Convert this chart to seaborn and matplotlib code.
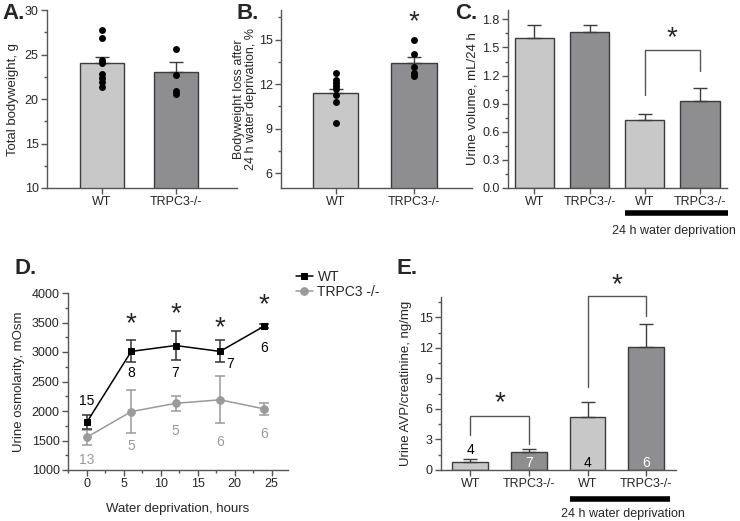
import numpy as np
import pandas as pd
import matplotlib.pyplot as plt
import seaborn as sns
from matplotlib.ticker import MultipleLocator
import matplotlib.transforms as mtrans

sns.set_style('ticks')
plt.rcParams['font.family'] = ['Liberation Sans', 'DejaVu Sans']
plt.rcParams['font.size'] = 9

CLARO = '#c8c8c8'
ESCURO = '#8e8e90'
BORDA = '#3c3c3c'
EIXO = '#555555'
CINZA = '#9a9a9a'

# A. peso corporal total
grupos = ['WT', 'TRPC3-/-']
peso_media = [24.0, 23.05]
peso_erro = [0.75, 1.1]
peso_wt = [27.7, 26.8, 24.4, 24.1, 22.8, 22.4, 21.9, 21.4]
peso_ko = [25.6, 22.7, 20.9, 20.6]

# B. perda de peso apos 24 h sem agua
perda_media = [11.4, 13.4]
perda_erro = [0.3, 0.45]
perda_wt = [12.75, 12.3, 12.05, 11.85, 11.65, 11.25, 10.8, 9.4]
perda_ko = [15.0, 14.05, 13.15, 12.75, 12.55]

# C. volume urinario
volume_rotulos = ['WT', 'TRPC3-/-', 'WT', 'TRPC3-/-']
volume_media = [1.60, 1.67, 0.73, 0.93]
volume_erro = [0.14, 0.07, 0.065, 0.14]

# D. osmolaridade x horas
horas = [0, 6, 12, 18, 24]
osm_wt = [1810, 3010, 3110, 3010, 3440]
osm_wt_erro = [115, 185, 245, 185, 30]
osm_ko = [1555, 1990, 2130, 2190, 2035]
osm_ko_erro = [130, 365, 125, 395, 100]
n_wt = ['15', '8', '7', '7', '6']
n_ko = ['13', '5', '5', '6', '6']

# E. AVP/creatinina
avp_media = [0.8, 1.75, 5.25, 12.05]
avp_erro = [0.25, 0.33, 1.4, 2.3]
n_avp = ['4', '7', '4', '6']

W, H = 740, 521
fig = plt.figure(figsize=(W / 100, H / 100), dpi=100)


def eixo(x0, x1, y_topo, y_base):
    return fig.add_axes([x0 / W, 1 - y_base / H, (x1 - x0) / W, (y_base - y_topo) / H])


def estilo(ax, menor=None):
    sns.despine(ax=ax)
    for s in ['left', 'bottom']:
        ax.spines[s].set_color(EIXO)
        ax.spines[s].set_linewidth(1)
    ax.tick_params(which='both', color=EIXO, width=1, labelsize=9, pad=2)
    ax.tick_params(which='major', length=4)
    ax.tick_params(which='minor', length=2)
    if menor:
        ax.yaxis.set_minor_locator(MultipleLocator(menor))


def barras(ax, x, medias, erros, cores, largura):
    sns.barplot(x=x, y=medias, hue=x, palette=cores, edgecolor=BORDA, linewidth=1,
                width=largura, legend=False, ax=ax, zorder=2)
    ax.errorbar(range(len(medias)), medias, yerr=[[0] * len(medias), erros], fmt='none',
                ecolor=BORDA, elinewidth=1, capsize=5, capthick=1, zorder=3)
    ax.tick_params(axis='x', length=0, pad=10.5)


def pontos(ax, wt, ko):
    df = pd.DataFrame({'grupo': ['WT'] * len(wt) + ['TRPC3-/-'] * len(ko), 'valor': wt + ko})
    sns.stripplot(data=df, x='grupo', y='valor', order=grupos, jitter=False, color='black',
                  size=5, ax=ax, zorder=4)


def estrela(ax, x, y, **kw):
    ax.text(x, y, '*', fontsize=20, ha='center', va='center', clip_on=False, **kw)


# painel A
ax = eixo(47, 237, 10, 188)
barras(ax, grupos, peso_media, peso_erro, [CLARO, ESCURO], 0.6)
pontos(ax, peso_wt, peso_ko)
ax.set_xlim(-0.74, 1.82)
ax.set_ylim(10, 30)
ax.yaxis.set_major_locator(MultipleLocator(5))
estilo(ax, 2.5)
ax.set_xlabel('')
ax.set_ylabel('Total bodyweight, g', fontsize=9.5, labelpad=4)

# painel B
ax = eixo(281, 472, 10, 188)
barras(ax, grupos, perda_media, perda_erro, [CLARO, ESCURO], 0.58)
pontos(ax, perda_wt, perda_ko)
ax.set_xlim(-0.70, 1.74)
ax.set_ylim(5, 17)
ax.yaxis.set_major_locator(MultipleLocator(3))
estilo(ax, 1.5)
ax.set_xlabel('')
ax.set_ylabel('Bodyweight loss after\n24 h water deprivation, %', fontsize=9, labelpad=1,
              linespacing=1.05)
estrela(ax, 1, 16.2)

# painel C
ax = eixo(508, 727, 10, 188)
ids = ['c1', 'c2', 'c3', 'c4']
barras(ax, ids, volume_media, volume_erro, [CLARO, ESCURO, CLARO, ESCURO], 0.71)
ax.set_xticks(range(4))
ax.set_xticklabels(volume_rotulos)
ax.set_xlim(-0.48, 3.49)
ax.set_ylim(0, 1.9)
ax.yaxis.set_major_locator(MultipleLocator(0.3))
ax.yaxis.set_major_formatter(plt.FormatStrFormatter('%.1f'))
estilo(ax, 0.15)
ax.set_ylabel('Urine volume, mL/24 h', fontsize=9.5, labelpad=3)
ax.plot([2, 2, 3, 3], [0.99, 1.47, 1.47, 1.25], color=EIXO, lw=1)
estrela(ax, 2.5, 1.6)
tr = mtrans.blended_transform_factory(ax.transData, ax.transAxes)
ax.plot([1.65, 3.5], [-0.143, -0.143], color='black', lw=4, transform=tr, clip_on=False,
        solid_capstyle='butt')
ax.text(2.52, -0.24, '24 h water deprivation', transform=tr, ha='center', va='center',
        fontsize=9)

# painel D
ax = eixo(68, 288, 293, 470)
sns.lineplot(x=horas, y=osm_ko, color=CINZA, marker='o', markersize=5.5, markeredgecolor=CINZA,
             lw=1.1, label='TRPC3 -/-', ax=ax, zorder=3)
sns.lineplot(x=horas, y=osm_wt, color='black', marker='s', markersize=5,
             markeredgecolor='black', lw=1.1, label='WT', ax=ax, zorder=4)
ax.errorbar(horas, osm_ko, yerr=osm_ko_erro, fmt='none', ecolor=CINZA, elinewidth=1.1,
            capsize=3.5, capthick=1.1, zorder=2)
ax.errorbar(horas, osm_wt, yerr=osm_wt_erro, fmt='none', ecolor='#333333', elinewidth=1.1,
            capsize=3.5, capthick=1.1, zorder=3)
ax.set_xlim(-2.55, 27.2)
ax.set_ylim(1000, 4000)
ax.xaxis.set_major_locator(MultipleLocator(5))
ax.xaxis.set_minor_locator(MultipleLocator(2.5))
ax.yaxis.set_major_locator(MultipleLocator(500))
estilo(ax, 250)
ax.set_xlabel('Water deprivation, hours', fontsize=9.5, labelpad=9)
ax.set_ylabel('Urine osmolarity, mOsm', fontsize=9.5, labelpad=5)
pos_n_wt = [(0, 2170), (6, 2640), (12, 2640), (19.4, 2790), (24, 3060)]
pos_n_ko = [(0, 1170), (6, 1410), (12, 1660), (18, 1480), (24, 1605)]
for (x, y), t in zip(pos_n_wt, n_wt):
    ax.text(x, y, t, ha='center', va='center', fontsize=10, color='black')
for (x, y), t in zip(pos_n_ko, n_ko):
    ax.text(x, y, t, ha='center', va='center', fontsize=10, color=CINZA)
for x, y in zip([6, 12, 18, 24], [3470, 3640, 3410, 3800]):
    estrela(ax, x, y)
h, l = ax.get_legend_handles_labels()
ax.legend(h[::-1], l[::-1], loc='upper left', bbox_to_anchor=(289 / W, 1 - 263 / H),
          bbox_transform=fig.transFigure, frameon=False, handlelength=1.2,
          handletextpad=0.35, labelspacing=0.1, borderpad=0, fontsize=10)

# painel E
ax = eixo(441, 676, 297, 470)
barras(ax, ids, avp_media, avp_erro, [CLARO, ESCURO, CLARO, ESCURO], 0.61)
ax.set_xticks(range(4))
ax.set_xticklabels(volume_rotulos)
ax.set_xlim(-0.5, 3.51)
ax.set_ylim(0, 17)
ax.yaxis.set_major_locator(MultipleLocator(3))
estilo(ax, 1.5)
ax.set_ylabel('Urine AVP/creatinine, ng/mg', fontsize=9.5, labelpad=5)
ax.plot([0, 0, 1, 1], [3.4, 5.35, 5.35, 2.6], color=EIXO, lw=1)
estrela(ax, 0.5, 6.6)
ax.plot([2, 2, 3, 3], [8.2, 17.05, 17.05, 15.1], color=EIXO, lw=1, clip_on=False)
estrela(ax, 2.5, 18.2)
cores_n = ['black', 'white', 'black', 'white']
y_n = [1.95, 0.7, 0.65, 0.65]
for i, (t, c, y) in enumerate(zip(n_avp, cores_n, y_n)):
    ax.text(i, y, t, ha='center', va='center', fontsize=10, color=c, zorder=5)
tr = mtrans.blended_transform_factory(ax.transData, ax.transAxes)
ax.plot([1.7, 3.41], [-0.165, -0.165], color='black', lw=4, transform=tr, clip_on=False,
        solid_capstyle='butt')
ax.text(2.6, -0.256, '24 h water deprivation', transform=tr, ha='center', va='center',
        fontsize=9)

# letras dos paineis
for x, y, t in [(2, 3, 'A.'), (237, 3, 'B.'), (455, 3, 'C.'), (15, 258, 'D.'), (397, 258, 'E.')]:
    fig.text(x / W, 1 - y / H, t, fontsize=16, fontweight='bold', ha='left', va='top')

fig.savefig('out.png', dpi=100)
